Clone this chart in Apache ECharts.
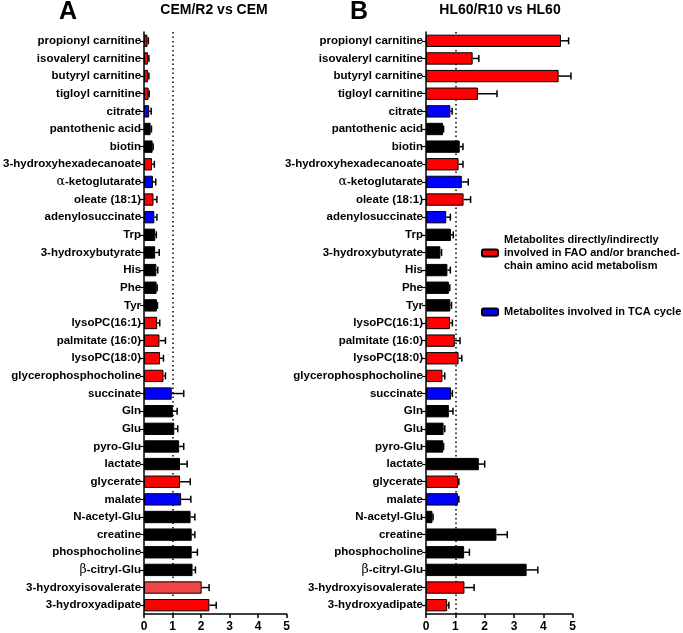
<!DOCTYPE html>
<html>
<head>
<meta charset="utf-8">
<script src="https://cdn.jsdelivr.net/npm/echarts@6/dist/echarts.min.js"></script>
<style>html,body{margin:0;padding:0;background:#fff}#c{width:683px;height:633px}</style>
</head>
<body>
<div id="c"></div>
<script>
var categories = ['propionyl carnitine','isovaleryl carnitine','butyryl carnitine','tigloyl carnitine','citrate','pantothenic acid','biotin','3-hydroxyhexadecanoate','α-ketoglutarate','oleate (18:1)','adenylosuccinate','Trp','3-hydroxybutyrate','His','Phe','Tyr','lysoPC(16:1)','palmitate (16:0)','lysoPC(18:0)','glycerophosphocholine','succinate','Gln','Glu','pyro-Glu','lactate','glycerate','malate','N-acetyl-Glu','creatine','phosphocholine','β-citryl-Glu','3-hydroxyisovalerate','3-hydroxyadipate'];
// group: F = FAO / branched-chain AA, T = TCA cycle, O = other
var groups = ['F','F','F','F','T','O','O','F','T','F','T','O','O','O','O','O','F','F','F','F','T','O','O','O','O','F','T','O','O','O','O','F','F'];

var valuesA = [0.12,0.14,0.14,0.16,0.18,0.23,0.30,0.28,0.31,0.33,0.36,0.39,0.39,0.43,0.44,0.45,0.46,0.54,0.56,0.68,0.97,1.01,1.06,1.23,1.26,1.26,1.30,1.63,1.67,1.67,1.70,2.02,2.29];
var errorsA = [0.03,0.03,0.03,0.02,0.07,0.03,0.02,0.08,0.10,0.12,0.09,0.04,0.14,0.05,0.02,0.02,0.09,0.21,0.12,0.07,0.42,0.15,0.12,0.16,0.25,0.36,0.34,0.15,0.11,0.20,0.10,0.26,0.24];

var valuesB = [4.60,1.59,4.52,1.77,0.83,0.58,1.15,1.11,1.22,1.28,0.69,0.85,0.49,0.73,0.78,0.83,0.82,0.98,1.11,0.56,0.85,0.78,0.60,0.59,1.80,1.09,1.09,0.22,2.40,1.30,3.43,1.31,0.72];
var errorsB = [0.26,0.21,0.42,0.65,0.06,0.02,0.11,0.15,0.22,0.24,0.14,0.08,0.04,0.10,0.03,0.04,0.08,0.18,0.11,0.08,0.05,0.14,0.04,0.01,0.20,0.03,0.03,0.02,0.37,0.18,0.38,0.33,0.06];

var xTicks = [0,1,2,3,4,5];
var titles = ['CEM/R2 vs CEM','HL60/R10 vs HL60'];
var panelLetters = ['A','B'];
var legendNames = ['Metabolites directly/indirectly\ninvolved in FAO and/or branched-\nchain amino acid metabolism','Metabolites involved in TCA cycle'];
</script>
<script>
var chart = echarts.init(document.getElementById('c'), null, {renderer:'canvas'});
var N = categories.length;
var colors = {F:'#ff0000', T:'#0000ff', O:'#000000'};
var FONT = 'Liberation Sans, Arial, sans-serif';
var grids = [
  {left:141.7, width:145, top:32, height:584},
  {left:426, width:146.7, top:32, height:584}
];
function labelFmt(v){
  if (v.charAt(0)==='α' || v.charAt(0)==='β') return '{g|'+v.charAt(0)+'}{b|'+v.slice(1)+'}';
  return '{b|'+v+'}';
}
var xAxes = [], yAxes = [], series = [];
var panelData = [[valuesA,errorsA],[valuesB,errorsB]];
for (var p=0;p<2;p++){
  xAxes.push({gridIndex:p, type:'value', min:0, max:5, interval:1, splitLine:{show:false},
    axisLine:{show:true, lineStyle:{color:'#000', width:1.5}},
    axisTick:{show:true, length:4, lineStyle:{color:'#000', width:1.5}},
    axisLabel:{color:'#000', fontWeight:'bold', fontSize:12, fontFamily:FONT, margin:7,
      formatter:function(v){return xTicks.indexOf(v)>=0 ? String(v) : '';}}});
  yAxes.push({gridIndex:p, type:'category', data:categories, inverse:true,
    axisLine:{show:true, lineStyle:{color:'#000', width:1.5}},
    axisTick:{show:true, alignWithLabel:true, length:4, lineStyle:{color:'#000', width:1.2}},
    axisLabel:{color:'#000', fontFamily:FONT, margin:3, interval:0, formatter:labelFmt,
      rich:{b:{fontWeight:'bold', fontSize:11.5, fontFamily:FONT, color:'#000'},
            g:{fontWeight:'normal', fontSize:12.5, fontFamily:'DejaVu Serif, serif', color:'#000'}}}});
  var vals = panelData[p][0], errs = panelData[p][1];
  ['F','T','O'].forEach(function(g, gi){
    var d = [];
    for (var i=0;i<N;i++){
      if (groups[i]===g){
        var item = {value: vals[i]};
        if (p===0 && categories[i]==='3-hydroxyisovalerate') item.itemStyle = {color:'#f04848'};
        d.push(item);
      } else d.push('-');
    }
    var s = {type:'bar', name: g==='F'?legendNames[0]:(g==='T'?legendNames[1]:'other'),
      xAxisIndex:p, yAxisIndex:p, stack:'s'+p, barWidth:'70%', data:d,
      itemStyle:{color:colors[g], borderColor:'#000', borderWidth:1}, z:2};
    if (gi===0){
      s.markLine = {silent:true, symbol:'none', label:{show:false},
        lineStyle:{color:'#000', type:[1.5,3], width:1.5}, data:[{xAxis:1}], z:1};
    }
    series.push(s);
  });
  var ed = [];
  for (var i=0;i<N;i++) ed.push([vals[i], i, errs[i]]);
  series.push({type:'custom', xAxisIndex:p, yAxisIndex:p, z:5, data:ed, encode:{x:0,y:1},
    renderItem:function(params, api){
      var v = api.value(0), i = api.value(1), e = api.value(2);
      var p0 = api.coord([v, i]), p1 = api.coord([v+e, i]);
      return {type:'group', children:[
        {type:'line', shape:{x1:p0[0], y1:p0[1], x2:p1[0], y2:p1[1]}, style:{stroke:'#000', lineWidth:1.5}},
        {type:'line', shape:{x1:p1[0], y1:p1[1]-3.5, x2:p1[0], y2:p1[1]+3.5}, style:{stroke:'#000', lineWidth:1.5}}
      ]};
    }});
}
var option = {
  backgroundColor:'#fff',
  animation:false,
  grid: grids,
  xAxis: xAxes,
  yAxis: yAxes,
  title: [
    {text:panelLetters[0], left:68, top:0, padding:0, textAlign:'center', textStyle:{fontSize:25, fontWeight:'bold', fontFamily:FONT, color:'#000'}},
    {text:titles[0], left:214, top:3, padding:0, textAlign:'center', textStyle:{fontSize:14, fontWeight:'bold', fontFamily:FONT, color:'#000'}},
    {text:panelLetters[1], left:359, top:0, padding:0, textAlign:'center', textStyle:{fontSize:25, fontWeight:'bold', fontFamily:FONT, color:'#000'}},
    {text:titles[1], left:500, top:3, padding:0, textAlign:'center', textStyle:{fontSize:14, fontWeight:'bold', fontFamily:FONT, color:'#000'}}
  ],
  legend: [
    {data:[legendNames[0]], left:481, top:233.5, padding:0, orient:'vertical', itemWidth:16, itemHeight:7,
      selectedMode:false, textStyle:{fontSize:11, fontWeight:'bold', fontFamily:FONT, color:'#000', lineHeight:13, padding:[0,0,0,1]}},
    {data:[legendNames[1]], left:481, top:305.5, padding:0, orient:'vertical', itemWidth:16, itemHeight:7,
      selectedMode:false, textStyle:{fontSize:11, fontWeight:'bold', fontFamily:FONT, color:'#000', lineHeight:13, padding:[0,0,0,1]}}
  ],
  series: series
};
chart.setOption(option);
</script>
</body>
</html>
